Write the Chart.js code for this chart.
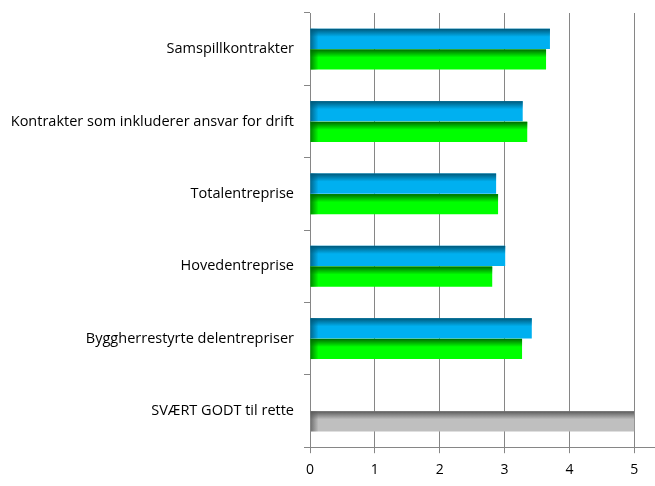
<!DOCTYPE html>
<html>
<head>
<meta charset="utf-8">
<script src="https://cdn.jsdelivr.net/npm/chart.js@4/dist/chart.umd.min.js"></script>
<style>
  html, body { margin: 0; padding: 0; background: #fff; }
  #wrap { width: 655px; height: 486px; }
</style>
</head>
<body>
<div id="wrap"><canvas id="chart"></canvas></div>
<script>
// Kategorier og verdier lest av bildet
const categories = [
  'Samspillkontrakter',
  'Kontrakter som inkluderer ansvar for drift',
  'Totalentreprise',
  'Hovedentreprise',
  'Byggherrestyrte delentrepriser',
  'SVÆRT GODT til rette'
];
const blueValues = [3.70, 3.28, 2.87, 3.01, 3.42, null];
const greenValues = [3.64, 3.35, 2.90, 2.81, 3.27, 5];
const xTicks = [0, 1, 2, 3, 4, 5];

const gridColor = '#868686';
const greenColors = ['#00ff00', '#00ff00', '#00ff00', '#00ff00', '#00ff00', '#bfbfbf'];
const greenShades = ['#006a00', '#006a00', '#006a00', '#006a00', '#006a00', '#5a5a5a'];

// Mørk kant øverst og til venstre på hver stolpe (3D-effekt)
const shadePlugin = {
  id: 'shade',
  afterDatasetsDraw(chart) {
    const ctx = chart.ctx;
    chart.data.datasets.forEach((ds, di) => {
      const meta = chart.getDatasetMeta(di);
      meta.data.forEach((el, i) => {
        if (ds.data[i] == null) return;
        const shade = ds.shades[i];
        const top = el.y - el.height / 2;
        const w = el.x - el.base;
        ctx.save();
        let g = ctx.createLinearGradient(0, top, 0, top + el.height * 0.4);
        g.addColorStop(0, shade);
        g.addColorStop(1, shade + '00');
        ctx.fillStyle = g;
        ctx.fillRect(el.base, top, w, el.height * 0.4);
        g = ctx.createLinearGradient(el.base, 0, el.base + 8, 0);
        g.addColorStop(0, shade + 'cc');
        g.addColorStop(1, shade + '00');
        ctx.fillStyle = g;
        ctx.fillRect(el.base, top, 8, el.height);
        ctx.restore();
      });
    });
  }
};

new Chart(document.getElementById('chart'), {
  type: 'bar',
  data: {
    labels: categories,
    datasets: [
      { data: blueValues, backgroundColor: '#00b0f0', shades: Array(6).fill('#00587a') },
      { data: greenValues, backgroundColor: greenColors, shades: greenShades },
    ]
  },
  options: {
    indexAxis: 'y',
    responsive: true,
    maintainAspectRatio: false,
    animation: false,
    layout: { padding: { top: 13, right: 0, bottom: 0, left: 0 } },
    categoryPercentage: 0.57,
    barPercentage: 0.98,
    plugins: { legend: { display: false }, tooltip: { enabled: false } },
    scales: {
      x: {
        min: 0,
        max: 5.32,
        afterBuildTicks(axis) { axis.ticks = xTicks.map((v) => ({ value: v })); },
        grid: { color: gridColor, tickLength: 6, lineWidth: 1 },
        border: { color: gridColor },
        ticks: { color: '#000', padding: 8, font: { family: 'Open Sans', size: 14 } },
      },
      y: {
        afterFit(axis) {
          axis.width = 310;
          axis.paddingTop = 0;
          axis.paddingBottom = 0;
        },
        grid: { drawOnChartArea: false, offset: true, tickLength: 6, color: gridColor },
        border: { color: gridColor },
        ticks: { color: '#000', padding: 10, font: { family: 'Open Sans', size: 14.5 } },
      }
    }
  },
  plugins: [shadePlugin],
});
</script>
</body>
</html>
